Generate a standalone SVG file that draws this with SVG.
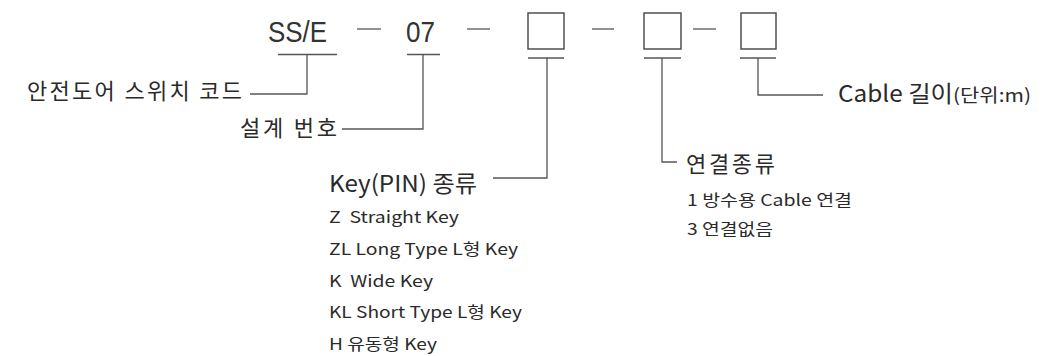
<svg xmlns="http://www.w3.org/2000/svg" width="1053" height="356" viewBox="0 0 1053 356">
<style>
.code{font-family:"Liberation Sans",Arial,sans-serif;font-size:30px;fill:#333}
.lbl{font-family:"Noto Sans CJK KR","Noto Sans",sans-serif;fill:#2a2a2a;white-space:pre}
.big{font-size:22px}
.mid{font-size:23px}
.sm{font-size:16px}
.ln{stroke:#555;stroke-width:1.3;fill:none}
.box{stroke:#444;stroke-width:1.4;fill:#fff}
</style>
<rect width="1053" height="356" fill="#fff"/>
<g id="code-row">
  <text class="code" x="268" y="42" textLength="59" lengthAdjust="spacingAndGlyphs">SS/E</text>
  <text class="code" x="406" y="42" textLength="29" lengthAdjust="spacingAndGlyphs">07</text>
  <line class="ln" x1="357" y1="29" x2="381" y2="29"/>
  <line class="ln" x1="467" y1="29" x2="490" y2="29"/>
  <line class="ln" x1="592" y1="29" x2="614" y2="29"/>
  <line class="ln" x1="693" y1="29" x2="716" y2="29"/>
  <rect class="box" x="528" y="13" width="36" height="36"/>
  <rect class="box" x="644" y="13" width="37" height="36"/>
  <rect class="box" x="741" y="13" width="35" height="36"/>
</g>
<g id="connectors">
  <line class="ln" x1="278" y1="54.5" x2="337" y2="54.5"/>
  <polyline class="ln" points="307,54.5 307,94 250,94"/>
  <line class="ln" x1="407" y1="54.5" x2="440" y2="54.5"/>
  <polyline class="ln" points="423,54.5 423,129 342,129"/>
  <line class="ln" x1="528" y1="58" x2="564" y2="58"/>
  <polyline class="ln" points="547,58 547,178 493,178"/>
  <line class="ln" x1="644" y1="58" x2="681" y2="58"/>
  <polyline class="ln" points="662,58 662,162 677,162"/>
  <line class="ln" x1="740" y1="58" x2="776" y2="58"/>
  <polyline class="ln" points="758,58 758,95 823,95"/>
</g>
<g id="label-switch-code">
  <text class="lbl big" x="27" y="99" textLength="215" lengthAdjust="spacing">안전도어 스위치 코드</text>
</g>
<g id="label-design-no">
  <text class="lbl big" x="240" y="136" textLength="97" lengthAdjust="spacing">설계 번호</text>
</g>
<g id="label-key-type">
  <text class="lbl mid" x="329" y="192" textLength="148" lengthAdjust="spacingAndGlyphs">Key(PIN) 종류</text>
  <text class="lbl sm" xml:space="preserve" x="329" y="223" textLength="130" lengthAdjust="spacingAndGlyphs">Z  Straight Key</text>
  <text class="lbl sm" x="329" y="255" textLength="189" lengthAdjust="spacingAndGlyphs">ZL Long Type L형 Key</text>
  <text class="lbl sm" xml:space="preserve" x="329" y="287" textLength="104" lengthAdjust="spacingAndGlyphs">K  Wide Key</text>
  <text class="lbl sm" x="329" y="318" textLength="193" lengthAdjust="spacingAndGlyphs">KL Short Type L형 Key</text>
  <text class="lbl sm" x="329" y="350" textLength="108" lengthAdjust="spacingAndGlyphs">H 유동형 Key</text>
</g>
<g id="label-connection">
  <text class="lbl big" x="686" y="172" textLength="89" lengthAdjust="spacing">연결종류</text>
  <text class="lbl sm" x="687" y="206" textLength="165" lengthAdjust="spacingAndGlyphs">1 방수용 Cable 연결</text>
  <text class="lbl sm" x="687" y="235" textLength="86" lengthAdjust="spacingAndGlyphs">3 연결없음</text>
</g>
<g id="label-cable-length">
  <text class="lbl mid" x="838" y="102" textLength="115" lengthAdjust="spacingAndGlyphs">Cable 길이</text>
  <text class="lbl" style="font-size:18px" x="953" y="102" textLength="78" lengthAdjust="spacingAndGlyphs">(단위:m)</text>
</g>
</svg>
